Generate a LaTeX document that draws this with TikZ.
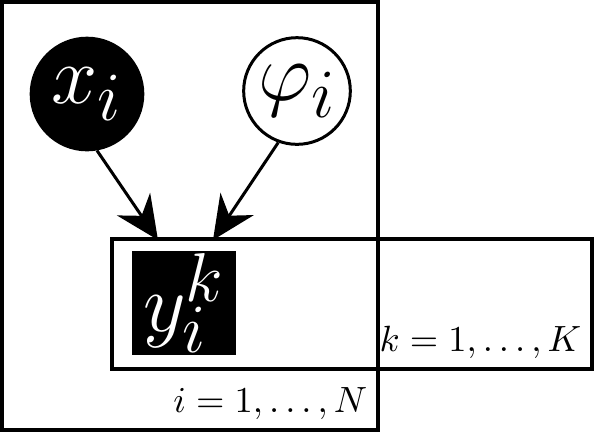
\documentclass[tikz,border=0pt]{standalone}
\usepackage{tikz}
\usetikzlibrary{arrows.meta}

\begin{document}
\begin{tikzpicture}[
  x=0.3pt, y=-0.3pt,
  >={Stealth[length=13pt,width=12pt]},
  % ---- node styles ----
  obsnode/.style={
    circle, draw=black, fill=black, text=white,
    minimum size=34pt, inner sep=0pt, font=\Huge
  },
  latnode/.style={
    circle, draw=black, line width=0.9pt, fill=white,
    minimum size=32pt, inner sep=0pt, font=\Huge
  },
  obsbox/.style={
    rectangle, draw=black, fill=black, text=white,
    minimum size=31pt, inner sep=0pt, font=\Huge
  },
  plate/.style={draw=black, line width=1pt},
  platelabel/.style={
    anchor=south east, inner sep=3pt,
    font=\fontsize{10.8}{12}\selectfont
  },
  edge/.style={->, line width=0.9pt},
]

\useasboundingbox (0,0) rectangle (594,432);

% ---- plates ----
\draw[plate] (2,2) coordinate (pN-nw) rectangle (378,430) coordinate (pN-se);
\draw[plate] (112,239) coordinate (pK-nw) rectangle (592,369) coordinate (pK-se);
\node[platelabel] (lblN) at (pN-se) {$i=1,\ldots,N$};
\node[platelabel] (lblK) at (pK-se) {$k=1,\ldots,K$};

% ---- variables ----
\node[obsnode] (x)   at (87,94)   {$x_i$};
\node[latnode] (phi) at (297,91)  {$\varphi_i$};
\node[obsbox]  (y)   at (184,303) {$y_i^k$};

% ---- edges ----
\coordinate (yin1) at (158,240);
\coordinate (yin2) at (213,240);
\draw[edge] (x.-80)    -- (yin1);
\draw[edge] (phi.-110) -- (yin2);

\end{tikzpicture}
\end{document}
